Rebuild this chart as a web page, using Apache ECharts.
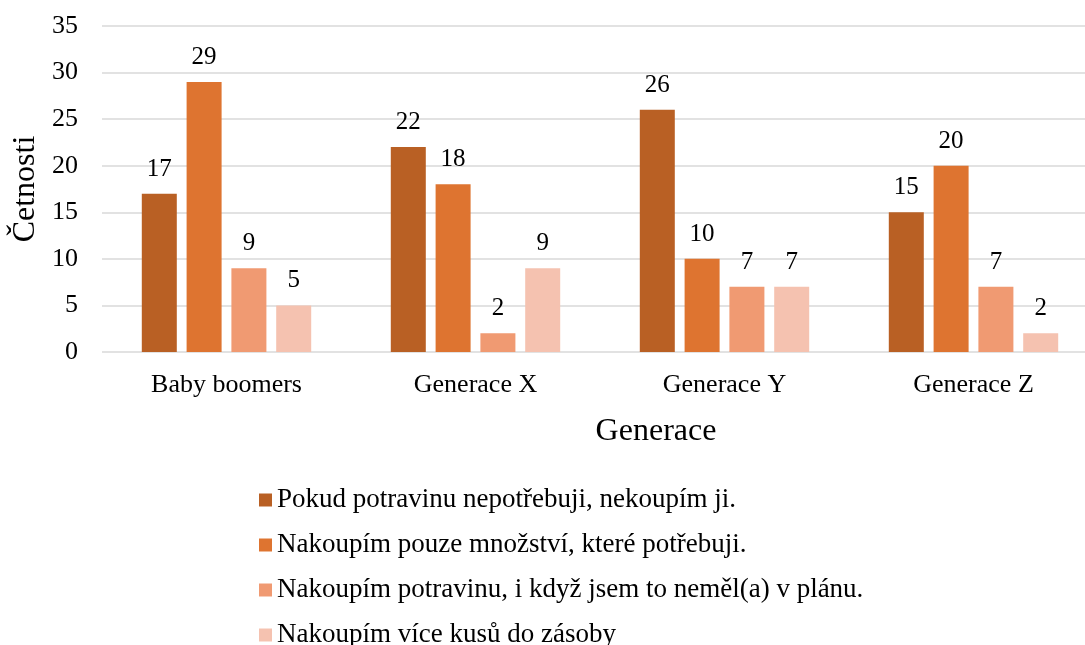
<!DOCTYPE html>
<html>
<head>
<meta charset="utf-8">
<script src="https://cdn.jsdelivr.net/npm/echarts@6/dist/echarts.min.js"></script>
<style>
  html, body { margin: 0; padding: 0; background: #fff; }
  #chart { width: 1085px; height: 645px; }
</style>
</head>
<body>
<div id="chart"></div>
<script>
var categories = ['Baby boomers', 'Generace X', 'Generace Y', 'Generace Z'];
var seriesNames = [
  'Pokud potravinu nepotřebuji, nekoupím ji.',
  'Nakoupím pouze množství, které potřebuji.',
  'Nakoupím potravinu, i když jsem to neměl(a) v plánu.',
  'Nakoupím více kusů do zásoby'
];
var nepotrebuji = [17, 22, 26, 15];
var jenPotrebne = [29, 18, 10, 20];
var mimoPlan = [9, 2, 7, 7];
var doZasoby = [5, 9, 7, 2];
var colors = ['#B96024', '#DE7430', '#F09A72', '#F5C2B0'];

var chart = echarts.init(document.getElementById('chart'));
var font = 'Liberation Serif';

var values = [nepotrebuji, jenPotrebne, mimoPlan, doZasoby];
var series = values.map(function (v, i) {
  return {
    name: seriesNames[i],
    type: 'bar',
    data: v,
    barWidth: 35,
    barGap: '28%',
    itemStyle: { color: colors[i] },
    label: {
      show: true,
      position: 'top',
      distance: 12,
      color: '#000',
      fontFamily: font,
      fontSize: 25
    }
  };
});

chart.setOption({
  animation: false,
  grid: { left: 102, width: 996, top: 26, height: 326, outerBoundsMode: 'none' },
  legend: {
    orient: 'vertical',
    left: 254,
    top: 481,
    height: 300,
    itemGap: 17,
    itemWidth: 13,
    itemHeight: 13,
    icon: 'rect',
    textStyle: { fontFamily: font, fontSize: 27, lineHeight: 28, color: '#000' },
    data: seriesNames
  },
  xAxis: {
    type: 'category',
    data: categories,
    name: 'Generace',
    nameLocation: 'middle',
    nameGap: 64,
    nameTextStyle: { fontFamily: font, fontSize: 32, color: '#000', padding: [0, 0, 0, 112] },
    axisLine: { show: false },
    axisTick: { show: false },
    axisLabel: { fontFamily: font, fontSize: 26, color: '#000', margin: 20 }
  },
  yAxis: {
    type: 'value',
    min: 0,
    max: 35,
    interval: 5,
    name: 'Četnosti',
    nameLocation: 'middle',
    nameGap: 51,
    nameTextStyle: { fontFamily: font, fontSize: 32, color: '#000' },
    axisLabel: { fontFamily: font, fontSize: 26, color: '#000', margin: 24 },
    splitLine: { lineStyle: { color: '#D9D9D9', width: 1.5 } }
  },
  series: series
});
</script>
</body>
</html>
